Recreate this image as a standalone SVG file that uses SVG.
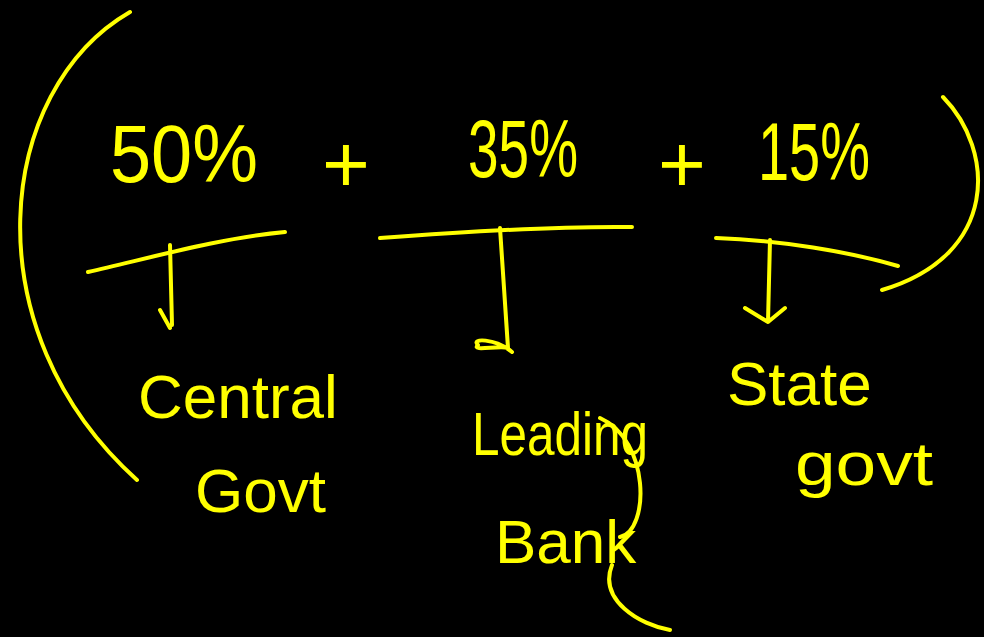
<svg xmlns="http://www.w3.org/2000/svg" width="984" height="637" viewBox="0 0 984 637">
<style>
.s{fill:none;stroke:#ffff00;stroke-width:4;stroke-linecap:round;stroke-linejoin:round}
.t{fill:#ffff00;font-family:"Liberation Sans",Arial,sans-serif}
.big{font-size:82px}
.lab{font-size:62px}
</style>
<rect width="984" height="637" fill="#000"/>
<g id="brackets">
<path class="s" d="M130,12 C-5,90 -30,330 137,480"/>
<path class="s" d="M943,97 C995,150 1000,255 882,290"/>
</g>
<g id="formula">
<text class="t big" x="110" y="182" textLength="148" lengthAdjust="spacingAndGlyphs">50%</text>
<text class="t big" x="322" y="192">+</text>
<text class="t big" x="468" y="177" textLength="110" lengthAdjust="spacingAndGlyphs">35%</text>
<text class="t big" x="658" y="192">+</text>
<text class="t big" x="758" y="180" textLength="112" lengthAdjust="spacingAndGlyphs">15%</text>
</g>
<g id="connectors">
<path class="s" d="M88,272 C150,258 220,238 285,232"/>
<path class="s" d="M380,238 C460,232 560,226 632,227"/>
<path class="s" d="M716,238 C780,240 850,252 898,266"/>
<path class="s" d="M170,245 L172,325 M160,310 L170,328"/>
<path class="s" d="M500,228 L508,348 M508,348 C500,345 470,352 478,345 C470,338 495,338 512,352"/>
<path class="s" d="M770,240 L768,322 M745,308 L768,322 L785,308"/>
</g>
<g id="central">
<text class="t lab" x="138" y="418">Central</text>
<text class="t lab" x="195" y="512">Govt</text>
</g>
<g id="leading">
<text class="t lab" x="472" y="455" textLength="176" lengthAdjust="spacingAndGlyphs">Leading</text>
<text class="t lab" x="495" y="563">Bank</text>
<path class="s" d="M600,418 C650,440 650,530 620,537 M612,565 C598,600 640,625 670,630"/>
</g>
<g id="state">
<text class="t lab" x="727" y="405">State</text>
<text class="t lab" x="795" y="485" textLength="138" lengthAdjust="spacingAndGlyphs">govt</text>
</g>
</svg>
